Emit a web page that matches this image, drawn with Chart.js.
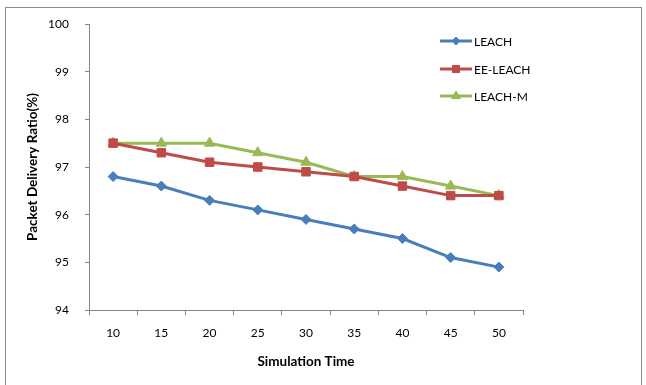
<!DOCTYPE html>
<html><head><meta charset="utf-8">
<script src="https://cdn.jsdelivr.net/npm/chart.js@4/dist/chart.umd.min.js"></script>
<style>html,body{margin:0;padding:0;background:#fff;}canvas{display:block;}</style>
</head><body>
<canvas id="c" width="646" height="385"></canvas>
<script>
const categories = ['10','15','20','25','30','35','40','45','50'];
const leach = [96.8, 96.6, 96.3, 96.1, 95.9, 95.7, 95.5, 95.1, 94.9];
const eeLeach = [97.5, 97.3, 97.1, 97.0, 96.9, 96.8, 96.6, 96.4, 96.4];
const leachM = [97.5, 97.5, 97.5, 97.3, 97.1, 96.8, 96.8, 96.6, 96.4];
const seriesNames = ['LEACH','EE-LEACH','LEACH-M'];
const yTitle = 'Packet Delivery Ratio(%)';
const xTitle = 'Simulation Time';

const FONT = 'Lato, "Open Sans", sans-serif';
const colors = ['#4A7EBB','#BE4B48','#98B954'];
const styles = ['rectRot','rect','triangle'];
const radii = [5,6,6];

const frame = {
  id:'frame',
  beforeDraw(chart){
    const c = chart.ctx;
    c.save();
    c.strokeStyle = '#8c8c8c';
    c.lineWidth = 1;
    c.strokeRect(5.5, 7.5, 636, 390);
    c.restore();
  }
};

const customLegend = {
  id:'customLegend',
  afterDraw(chart){
    const c = chart.ctx;
    const ys = [41, 69, 96];
    chart.data.datasets.forEach((ds,i)=>{
      const y = ys[i];
      c.save();
      c.strokeStyle = ds.borderColor;
      c.lineWidth = 3;
      c.beginPath(); c.moveTo(440,y); c.lineTo(472,y); c.stroke();
      c.restore();
      c.save();
      c.fillStyle = ds.backgroundColor;
      c.strokeStyle = ds.borderColor;
      c.lineWidth = 1;
      Chart.helpers.drawPoint(c, {pointStyle: ds.pointStyle, radius: ds.pointRadius - 1, borderWidth: 1, rotation: 0}, 456, y);
      c.restore();
      c.save();
      c.fillStyle = '#000';
      c.font = '12px ' + FONT;
      c.textBaseline = 'middle';
      c.fillText(ds.label, 474, y + 1);
      c.restore();
    });
  }
};

const datasets = [leach, eeLeach, leachM].map((d,i)=>({
  label: seriesNames[i],
  data: d,
  borderColor: colors[i],
  backgroundColor: colors[i],
  borderWidth: 3,
  pointStyle: styles[i],
  pointRadius: radii[i],
  pointHoverRadius: radii[i],
  pointBorderWidth: 1,
  tension: 0
}));

new Chart(document.getElementById('c'), {
  type:'line',
  data:{ labels: categories, datasets },
  options:{
    responsive:false,
    animation:false,
    layout:{ padding:{ left:0, top:24, right:123, bottom:0 } },
    plugins:{ legend:{display:false}, tooltip:{enabled:false} },
    scales:{
      x:{
        offset:true,
        grid:{ offset:true, drawOnChartArea:false, drawTicks:true, tickLength:5, color:'#868686' },
        border:{ display:true, color:'#868686', width:1 },
        ticks:{ color:'#000', font:{ family:FONT, size:12 }, padding:11, maxRotation:0 },
        title:{ display:true, text:xTitle, color:'#000', font:{ family:FONT, size:13.5, weight:'bold' }, padding:{top:0,bottom:15} },
        afterFit(s){ s.height = 75; }
      },
      y:{
        min:94, max:100,
        grid:{ drawOnChartArea:false, drawTicks:true, tickLength:4, color:'#868686' },
        border:{ display:true, color:'#868686', width:1 },
        ticks:{ stepSize:1, color:'#000', font:{ family:FONT, size:12 }, padding:16 },
        title:{ display:true, text:yTitle, color:'#000', font:{ family:FONT, size:13.5, weight:'bold' }, padding:{top:25,bottom:0} },
        afterFit(s){ s.width = 89; }
      }
    }
  },
  plugins:[frame, customLegend]
});
</script>
</body></html>
